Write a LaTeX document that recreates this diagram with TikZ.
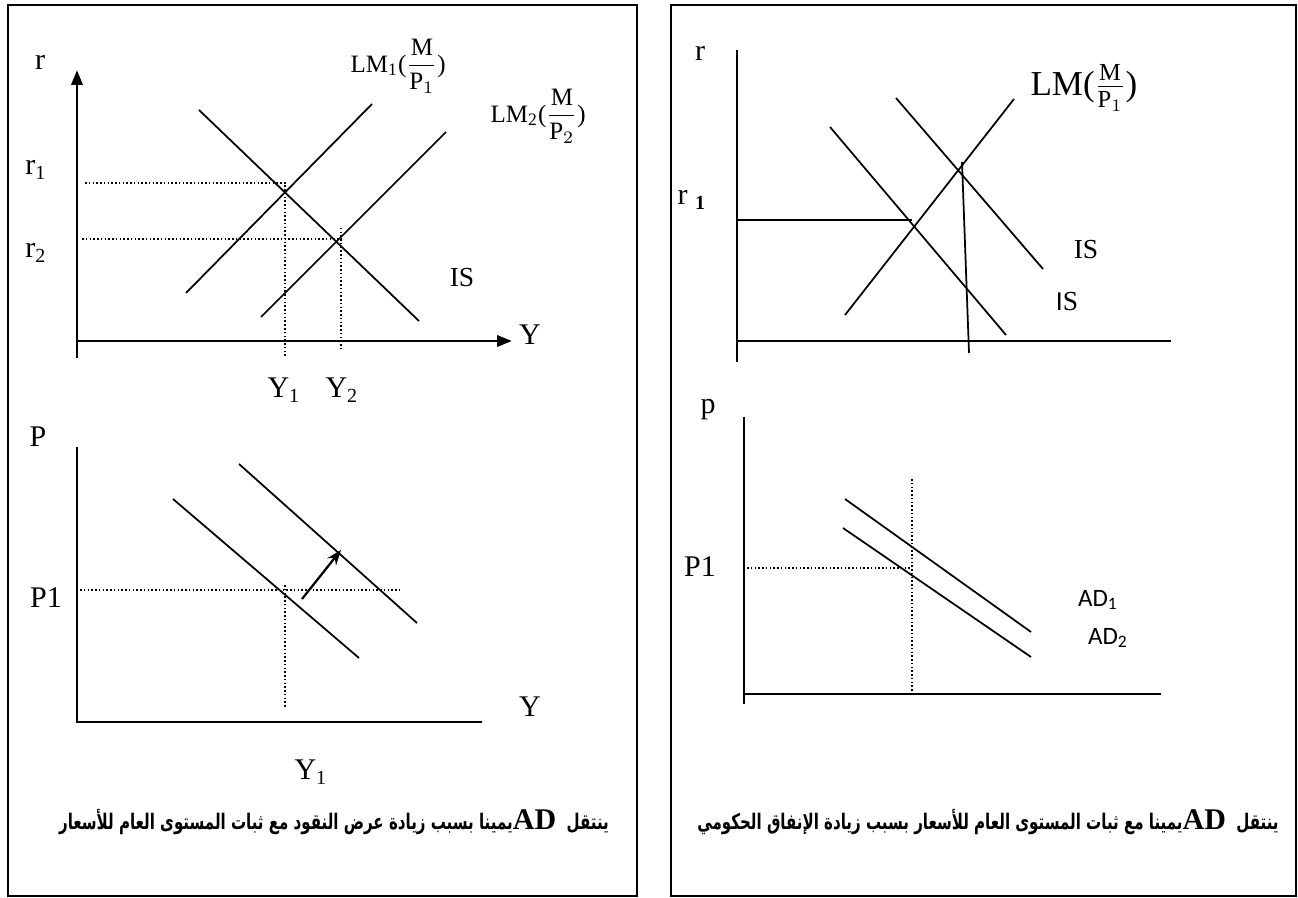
\documentclass[tikz,border=0pt]{standalone}
\usepackage{fontspec}
\setmainfont{Liberation Serif}
\newfontfamily\adfont{Carlito}
\newfontfamily\arabicfont[Script=Arabic,FakeStretch=0.7]{DejaVu Sans}
\TeXXeTstate=1
\usetikzlibrary{arrows.meta}
\tikzset{
  axis/.style={line width=1.1pt},
  curve/.style={line width=0.7pt},
  guide/.style={line width=0.45pt,dash pattern=on 0.6pt off 0.9pt},
  lbl/.style={font=\fontsize{12}{12}\selectfont,inner sep=0pt},
  note/.style={font=\arabicfont\bfseries\fontsize{8.6}{10}\selectfont,inner sep=0pt}
}
\newcommand{\adword}{\beginL{\rmfamily\bfseries\fontsize{12}{12}\selectfont AD}\endL{}}

\begin{document}
\begin{tikzpicture}[x=0.4pt,y=-0.4pt]
\useasboundingbox (0,0) rectangle (1298,898);
% frames
\draw[line width=0.8pt] (8,5) rectangle (637,896);
\draw[line width=0.8pt] (671,5) rectangle (1296,896);

% left top: IS-LM, money supply rises
\draw[axis,-{Triangle[length=6pt,width=4.5pt]}] (77,358)--(77,70);
\draw[axis,-{Triangle[length=6pt,width=4.5pt]}] (77,341)--(512,341);
\draw[curve] (199,110)--(419,321);
\draw[curve] (186,293)--(372,104);
\draw[curve] (261,317)--(446,132);
\draw[guide] (85,183)--(285,183)--(285,357);
\draw[guide] (82,239)--(343,239);
\draw[guide] (341,228)--(341,350);
\node[lbl] (r) at (40,62) {r};
\node[lbl] (ra) at (36,170) {r\textsubscript{1}};
\node[lbl] (rb) at (36,253) {r\textsubscript{2}};
\node[lbl] (y) at (530,335) {Y};
\node[lbl] (ya) at (284,390) {Y\textsubscript{1}};
\node[lbl] (yb) at (342,390) {Y\textsubscript{2}};
\node[lbl,font=\fontsize{11}{11}\selectfont] (is) at (462,278) {IS};
\node[lbl,anchor=west,font=\fontsize{10}{10}\selectfont] (lma) at (350,66) {LM\textsubscript{1}($\displaystyle\frac{\mathrm{M}}{\mathrm{P}_1}$)};
\node[lbl,anchor=west,font=\fontsize{10}{10}\selectfont] (lmb) at (490,116) {LM\textsubscript{2}($\displaystyle\frac{\mathrm{M}}{\mathrm{P}_2}$)};

% left bottom: AD
\draw[axis] (77,447)--(77,722)--(482,722);
\draw[curve] (173,499)--(359,658);
\draw[curve] (239,464)--(417,623);
\draw[guide] (80,590)--(402,590);
\draw[guide] (285,585)--(285,707);
\draw[line width=0.9pt,-{Stealth[length=6pt,width=4.5pt]}] (302,599)--(341,550);
\node[lbl] (p) at (38,437) {P};
\node[lbl] (pa) at (46,598) {P1};
\node[lbl] (yy) at (530,707) {Y};
\node[lbl] (yya) at (311,772) {Y\textsubscript{1}};
\node[note] (ta) at (334,822) {\beginR ينتقل\ \ \adword يمينا بسبب زيادة عرض النقود مع ثبات المستوى العام للأسعار\endR};

% right top: IS shifts
\draw[axis] (737,50)--(737,362);
\draw[axis] (737,341)--(1171,341);
\draw[curve] (737,220)--(912,220);
\draw[curve] (830,127)--(1006,335);
\draw[curve] (896,98)--(1043,269);
\draw[curve] (845,315)--(1014,99);
\draw[curve] (962,162)--(969,353);
\node[lbl] (rr) at (700,53) {r};
\node[lbl] (rra) at (692,200) {r \textsubscript{\textbf{1}}};
\node[lbl,anchor=west,font=\fontsize{14}{14}\selectfont] (lm) at (1030,88) {LM($\frac{\mathrm{M}}{\mathrm{P}_1}$)};
\node[lbl,font=\fontsize{11}{11}\selectfont] (isa) at (1086,250) {IS};
\node[lbl,font=\fontsize{11}{11}\selectfont] (isb) at (1067,302) {{\adfont I}S};

% right bottom: AD
\draw[axis] (744,417)--(744,704);
\draw[axis] (744,694)--(1161,694);
\draw[guide] (747,568)--(910,568);
\draw[guide] (912,479)--(912,694);
\draw[curve] (845,499)--(1031,632);
\draw[curve] (843,528)--(1031,657);
\node[lbl] (pp) at (708,410) {p};
\node[lbl] (ppa) at (700,567) {P1};
\node[lbl,font=\adfont\fontsize{10}{10}\selectfont] (ada) at (1098,600) {AD\textsubscript{1}};
\node[lbl,font=\adfont\fontsize{10}{10}\selectfont] (adb) at (1108,638) {AD\textsubscript{2}};
\node[note] (tb) at (988,822) {\beginR ينتقل\ \ \adword يمينا مع ثبات المستوى العام للأسعار بسبب زيادة الإنفاق الحكومي\endR};
\end{tikzpicture}
\end{document}
